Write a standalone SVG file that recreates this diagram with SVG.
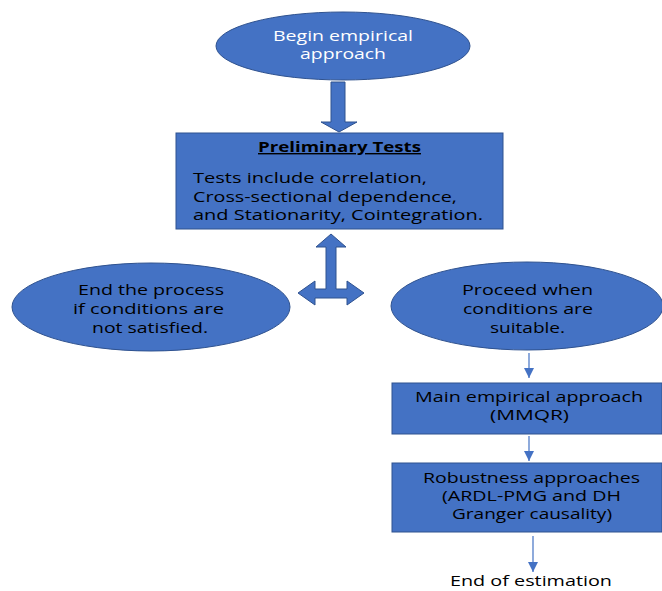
<svg xmlns="http://www.w3.org/2000/svg" width="662" height="591" viewBox="0 0 662 591">
<defs>
<style>
.shape{fill:#4472C4;stroke:#2F528F;stroke-width:1}
.t{font-family:"Open Sans","Liberation Sans",sans-serif;font-size:14px;fill:#000}
.w{fill:#fff}
.b{font-weight:bold;text-decoration:underline}
.thin{stroke:#4472C4;stroke-width:1.2;fill:none}
</style>
<marker id="ah" markerUnits="userSpaceOnUse" markerWidth="12" markerHeight="10" refX="10" refY="5" orient="auto">
<path d="M0,0 L10,5 L0,10 Z" fill="#4472C4"/>
</marker>
</defs>
<rect width="662" height="591" fill="#fff"/>
<g id="connectors">
<path class="shape" d="M331,82 L345,82 L345,122 L357,122 L339,132 L321,122 L331,122 Z"/>
<path class="shape" d="M331,234 L346,247 L336,247 L336,289 L347,289 L347,281 L364,293 L347,305 L347,298 L315,298 L315,305 L298,293 L315,281 L315,289 L326,289 L326,247 L316,247 Z"/>
<line class="thin" x1="529" y1="353" x2="529" y2="378" marker-end="url(#ah)"/>
<line class="thin" x1="529" y1="436" x2="529" y2="461" marker-end="url(#ah)"/>
<line class="thin" x1="533" y1="536" x2="533" y2="572" marker-end="url(#ah)"/>
</g>
<g id="begin">
<ellipse class="shape" cx="343" cy="46" rx="127" ry="34"/>
<text class="t w" x="273" y="41" textLength="140" lengthAdjust="spacingAndGlyphs">Begin empirical</text>
<text class="t w" x="300" y="59" textLength="86" lengthAdjust="spacingAndGlyphs">approach</text>
</g>
<g id="preliminary">
<rect class="shape" x="176" y="133" width="327" height="96"/>
<text class="t b" x="258" y="152" textLength="163" lengthAdjust="spacingAndGlyphs">Preliminary Tests</text>
<text class="t" x="193" y="183" textLength="234" lengthAdjust="spacingAndGlyphs">Tests include correlation,</text>
<text class="t" x="193" y="202" textLength="264" lengthAdjust="spacingAndGlyphs">Cross-sectional dependence,</text>
<text class="t" x="193" y="220" textLength="290" lengthAdjust="spacingAndGlyphs">and Stationarity, Cointegration.</text>
</g>
<g id="end-process">
<ellipse class="shape" cx="151" cy="307" rx="139" ry="44"/>
<text class="t" x="78" y="295" textLength="146" lengthAdjust="spacingAndGlyphs">End the process</text>
<text class="t" x="73" y="314" textLength="151" lengthAdjust="spacingAndGlyphs">if conditions are</text>
<text class="t" x="92" y="333" textLength="116" lengthAdjust="spacingAndGlyphs">not satisfied.</text>
</g>
<g id="proceed">
<ellipse class="shape" cx="527" cy="306" rx="136" ry="44"/>
<text class="t" x="462" y="295" textLength="131" lengthAdjust="spacingAndGlyphs">Proceed when</text>
<text class="t" x="463" y="314" textLength="130" lengthAdjust="spacingAndGlyphs">conditions are</text>
<text class="t" x="490" y="333" textLength="75" lengthAdjust="spacingAndGlyphs">suitable.</text>
</g>
<g id="main">
<rect class="shape" x="392" y="383" width="270" height="51"/>
<text class="t" x="415" y="402" textLength="228" lengthAdjust="spacingAndGlyphs">Main empirical approach</text>
<text class="t" x="490" y="420" textLength="79" lengthAdjust="spacingAndGlyphs">(MMQR)</text>
</g>
<g id="robustness">
<rect class="shape" x="392" y="463" width="270" height="69"/>
<text class="t" x="423" y="483" textLength="217" lengthAdjust="spacingAndGlyphs">Robustness approaches</text>
<text class="t" x="442" y="501" textLength="179" lengthAdjust="spacingAndGlyphs">(ARDL-PMG and DH</text>
<text class="t" x="452" y="519" textLength="160" lengthAdjust="spacingAndGlyphs">Granger causality)</text>
</g>
<g id="end-estimation">
<text class="t" x="450" y="586" textLength="162" lengthAdjust="spacingAndGlyphs">End of estimation</text>
</g>
</svg>
